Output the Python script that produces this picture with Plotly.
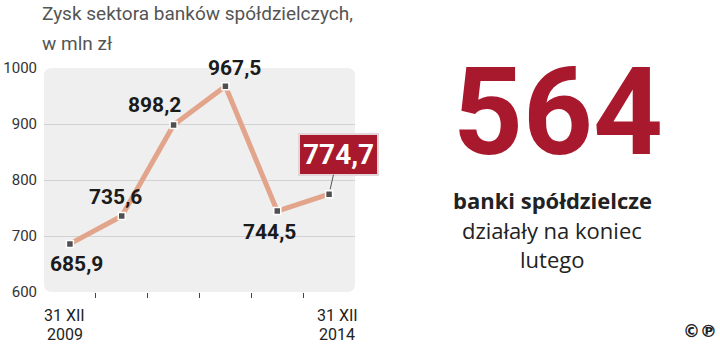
import plotly.graph_objects as go

years = [2009, 2010, 2011, 2012, 2013, 2014]
profit = [685.9, 735.6, 898.2, 967.5, 744.5, 774.7]
labels = ["685,9", "735,6", "898,2", "967,5", "744,5", "774,7"]
y_ticks = [600, 700, 800, 900, 1000]
x_edge_top = ["31 XII", "31 XII"]
x_edge_bottom = ["2009", "2014"]
title_lines = ["Zysk sektora banków spółdzielczych,", "w mln zł"]
big_number = "564"
side_lines = ["<b>banki spółdzielcze</b>", "działały na koniec", "lutego"]

idx = list(range(len(years)))
RED = "#a8192e"
LBL = "Roboto, sans-serif"

# plot area in pixels: left 44, right 355, top 68, bottom 292
def px(xp):
    return (xp - 44) / 311

def py(yp):
    return (292 - yp) / 224

fig = go.Figure()
fig.add_trace(go.Scatter(
    x=idx, y=profit, mode="lines+markers",
    line=dict(color="#e2a58c", width=5),
    marker=dict(symbol="square", size=7, color="#505050", line=dict(color="white", width=1.5)),
    hoverinfo="skip", showlegend=False, cliponaxis=False,
))

# rounded grey panel
r_x, r_y = 8 / 311, 8 / 224
path = (f"M {r_x} 0 L {1-r_x} 0 Q 1 0 1 {r_y} L 1 {1-r_y} Q 1 1 {1-r_x} 1 "
        f"L {r_x} 1 Q 0 1 0 {1-r_y} L 0 {r_y} Q 0 0 {r_x} 0 Z")
fig.add_shape(type="path", path=path, xref="x domain", yref="y domain",
              fillcolor="#efefef", line=dict(width=0), layer="below")

shifts = [(7, -20), (-6, 19), (-19, 20), (9, 18), (-8, -21)]
for i, (dx, dy) in enumerate(shifts):
    fig.add_annotation(x=idx[i], y=profit[i], text=f"<b>{labels[i]}</b>", showarrow=False,
                       xanchor="center", yanchor="middle",
                       xshift=dx, yshift=dy, font=dict(family=LBL, size=21, color="#1b1b1b"))

# highlighted last value
fig.add_annotation(x=idx[-1], y=profit[-1], text=f"<b>{labels[-1]}</b>", showarrow=True,
                   arrowhead=0, arrowwidth=1, arrowcolor="#555", ax=9, ay=-40, standoff=5,
                   bgcolor=RED, bordercolor="#e3d6d8", borderwidth=2, borderpad=3,
                   font=dict(family=LBL, size=28, color="white"))

for xi, t1, t2, dx in zip([idx[0], idx[-1]], x_edge_top, x_edge_bottom, [-5, 8]):
    fig.add_annotation(x=xi, y=py(315), xref="x", yref="paper", text=t1, showarrow=False,
                       xanchor="center", yanchor="middle", xshift=dx,
                       font=dict(family="Roboto, sans-serif", size=16, color="#222"))
    fig.add_annotation(x=xi, y=py(334), xref="x", yref="paper", text=t2, showarrow=False,
                       xanchor="center", yanchor="middle", xshift=dx,
                       font=dict(family="Roboto, sans-serif", size=16, color="#222"))

for t, yy in zip(title_lines, [14, 44]):
    fig.add_annotation(x=px(40), y=py(yy), xref="paper", yref="paper", xanchor="left", yanchor="middle",
                       text=t, showarrow=False,
                       font=dict(family="Roboto, sans-serif", size=19, color="#555"))

fig.add_annotation(x=px(558), y=py(112), xref="paper", yref="paper", text=f"<b>{big_number}</b>",
                   showarrow=False, xanchor="center", yanchor="middle",
                   font=dict(family="Roboto, sans-serif", size=122, color=RED))
for t, yy, fs in zip(side_lines, [200, 230, 259], [22, 22, 22]):
    fig.add_annotation(x=px(552), y=py(yy), xref="paper", yref="paper", text=t, showarrow=False,
                       xanchor="center", yanchor="middle",
                       font=dict(family="Open Sans, sans-serif", size=fs, color="#222"))
fig.add_annotation(x=px(700), y=py(331), xref="paper", yref="paper", text="<b>©℗</b>", showarrow=False,
                   xanchor="center", yanchor="middle",
                   font=dict(family="DejaVu Sans, sans-serif", size=17, color="#222"))

fig.update_layout(
    width=720, height=347,
    margin=dict(l=44, r=365, t=68, b=55, autoexpand=False),
    paper_bgcolor="white", plot_bgcolor="rgba(0,0,0,0)",
    xaxis=dict(range=[-0.5, 5.5], tickvals=[0.5, 1.5, 2.5, 3.5, 4.5], showticklabels=False,
               ticks="outside", ticklen=5, tickwidth=1, tickcolor="#444", automargin=False,
               showgrid=False, zeroline=False, showline=False, fixedrange=True),
    yaxis=dict(range=[600, 1000], tickvals=y_ticks, showgrid=True, gridcolor="#d2d2d2", gridwidth=1,
               zeroline=False, showline=False, ticks="", ticklabelstandoff=6, automargin=False,
               tickfont=dict(family="Roboto, sans-serif", size=15, color="#333"), fixedrange=True),
)

fig.write_html("out.html")
